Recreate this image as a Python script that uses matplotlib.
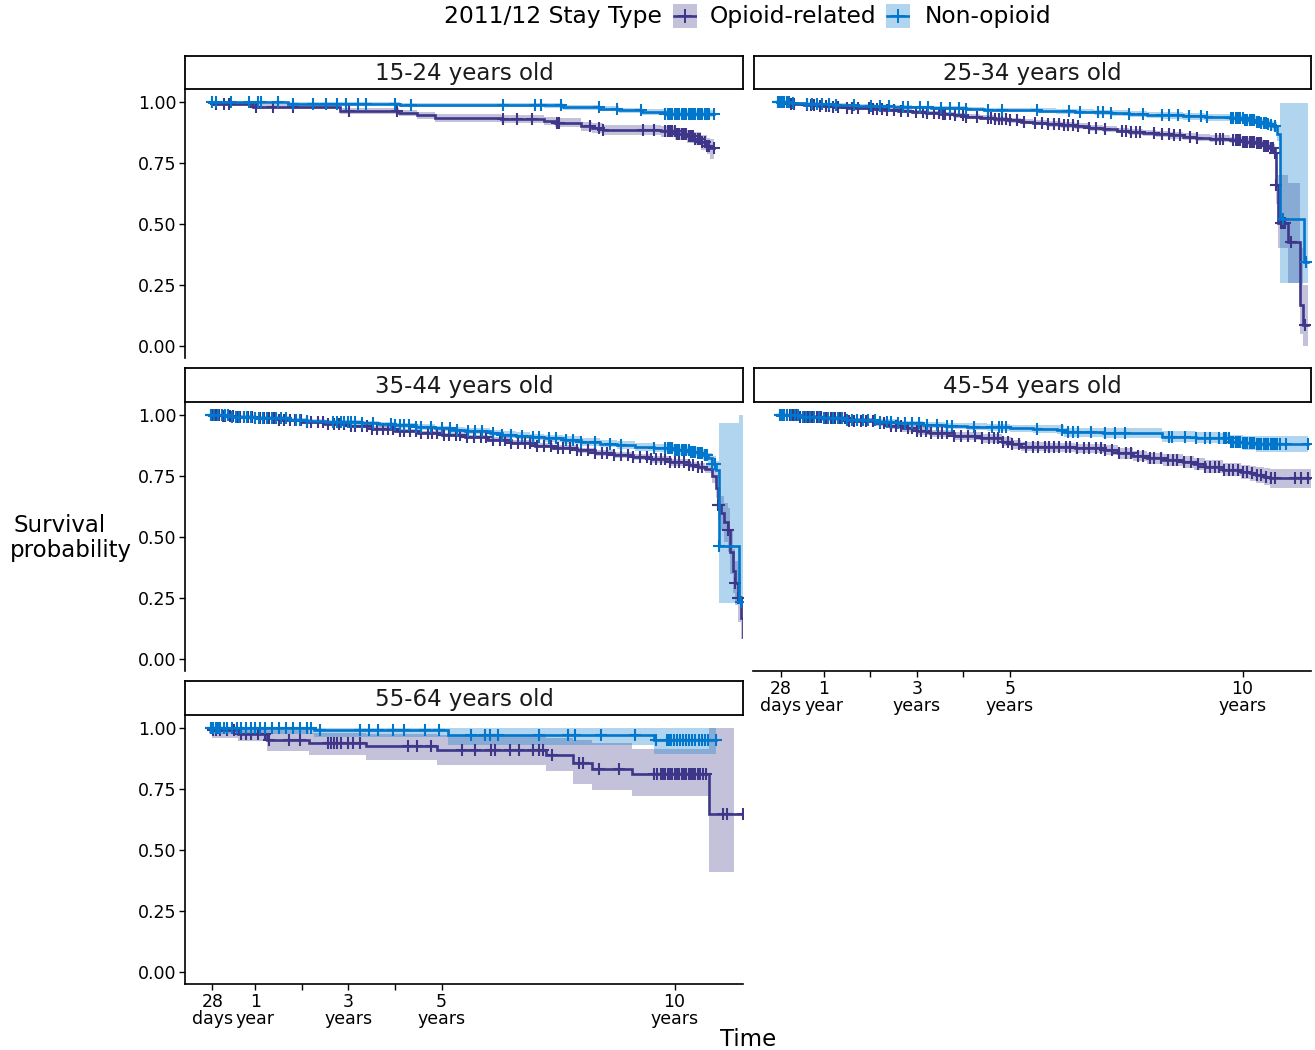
import matplotlib
matplotlib.use('Agg')
import matplotlib.pyplot as plt
import numpy as np

# Kaplan-Meier curves; time in years
groups = ['15-24 years old', '25-34 years old', '35-44 years old',
          '45-54 years old', '55-64 years old']
series_names = ['Opioid-related', 'Non-opioid']

# --- 15-24
p1_opi_t = [0, 0.08, 0.95, 2.82, 4.08, 4.47, 4.86, 6.27, 7.2, 7.44, 7.99, 8.22, 8.46,
            9.71, 10.02, 10.26, 10.41, 10.57, 10.69, 10.77, 10.85]
p1_opi_s = [1.0, 0.993, 0.98, 0.962, 0.955, 0.945, 0.935, 0.929, 0.922, 0.915, 0.90, 0.893,
            0.886, 0.88, 0.87, 0.86, 0.85, 0.835, 0.82, 0.81, 0.81]
p1_opi_lo = [1.0, 0.985, 0.97, 0.95, 0.941, 0.93, 0.92, 0.913, 0.905, 0.897, 0.881, 0.873,
             0.865, 0.858, 0.846, 0.834, 0.822, 0.805, 0.788, 0.765, 0.765]
p1_opi_hi = [1.0, 1.0, 0.99, 0.974, 0.968, 0.96, 0.95, 0.945, 0.939, 0.933, 0.919, 0.913,
             0.907, 0.902, 0.894, 0.886, 0.878, 0.865, 0.852, 0.848, 0.848]
p1_opi_c = [0.16, 0.32, 0.44, 1.02, 1.38, 1.81, 3.02, 4.04, 6.31, 6.62, 6.93, 7.48, 7.52,
            8.18, 8.38, 8.46, 9.32, 9.55, 9.8, 9.85, 9.9, 9.95, 10.0, 10.05, 10.1, 10.15,
            10.2, 10.25, 10.3, 10.35, 10.4, 10.45, 10.5, 10.55, 10.6, 10.65, 10.7, 10.75, 10.85]
p1_non_t = [0, 1.7, 4.1, 7.2, 7.6, 8.4, 8.8, 9.3, 9.8, 10.85]
p1_non_s = [1.0, 0.993, 0.989, 0.986, 0.979, 0.973, 0.966, 0.96, 0.952, 0.952]
p1_non_lo = [1.0, 0.986, 0.981, 0.977, 0.969, 0.962, 0.954, 0.947, 0.937, 0.937]
p1_non_hi = [1.0, 0.999, 0.996, 0.994, 0.988, 0.983, 0.977, 0.972, 0.966, 0.966]
p1_non_c = [0.08, 0.16, 0.48, 0.87, 1.06, 1.12, 1.49, 1.81, 2.24, 2.51, 2.75, 2.94, 3.21,
            3.37, 4.0, 4.35, 6.31, 7.01, 7.13, 7.56, 8.38, 8.77, 9.28, 9.8, 9.85, 9.9, 9.95,
            10.0, 10.05, 10.1, 10.15, 10.2, 10.25, 10.3, 10.35, 10.4, 10.45, 10.5, 10.55,
            10.6, 10.65, 10.7, 10.75, 10.85]

# --- 25-34
p2_opi_t = [0, 0.3, 0.57, 0.9, 1.2, 1.5, 1.74, 2.0, 2.3, 2.6, 2.9, 3.2, 3.5, 3.8, 4.06,
            4.35, 4.65, 4.95, 5.23, 5.5, 5.8, 6.1, 6.39, 6.7, 7.0, 7.3, 7.56, 7.85, 8.15,
            8.45, 8.72, 9.0, 9.3, 9.73, 10.0, 10.28, 10.45, 10.59, 10.70, 10.72, 10.77,
            10.98, 11.23, 11.30, 11.40]
p2_opi_s = [1.0, 0.993, 0.988, 0.984, 0.98, 0.977, 0.974, 0.971, 0.967, 0.964, 0.96, 0.955,
            0.95, 0.945, 0.94, 0.935, 0.93, 0.925, 0.92, 0.915, 0.91, 0.905, 0.90, 0.894,
            0.889, 0.883, 0.878, 0.873, 0.868, 0.863, 0.858, 0.854, 0.85, 0.844, 0.838, 0.83,
            0.82, 0.81, 0.79, 0.66, 0.505, 0.427, 0.168, 0.086, 0.086]
p2_opi_lo = [1.0, 0.989, 0.983, 0.978, 0.974, 0.97, 0.967, 0.963, 0.959, 0.955, 0.951,
             0.946, 0.941, 0.935, 0.93, 0.925, 0.92, 0.915, 0.909, 0.904, 0.899, 0.894,
             0.888, 0.882, 0.877, 0.871, 0.865, 0.86, 0.855, 0.85, 0.845, 0.84, 0.836, 0.83,
             0.823, 0.815, 0.804, 0.792, 0.77, 0.58, 0.40, 0.26, 0.05, 0.0, 0.0]
p2_opi_hi = [1.0, 0.997, 0.993, 0.99, 0.986, 0.984, 0.981, 0.979, 0.975, 0.973, 0.969,
             0.964, 0.959, 0.955, 0.95, 0.945, 0.94, 0.935, 0.931, 0.926, 0.921, 0.916,
             0.912, 0.906, 0.901, 0.895, 0.891, 0.886, 0.881, 0.876, 0.871, 0.868, 0.864,
             0.858, 0.853, 0.845, 0.836, 0.828, 0.81, 0.74, 0.70, 0.67, 0.40, 0.25, 0.25]
p2_opi_c = [0.02, 0.1, 0.2, 0.3, 0.37, 0.65, 0.72, 0.78, 0.92, 1.04, 1.12, 1.2, 1.31, 1.5,
            1.6, 1.74, 1.97, 2.05, 2.15, 2.25, 2.36, 2.51, 2.67, 2.82, 2.98, 3.13, 3.21, 3.37,
            3.47, 3.56, 3.6, 3.72, 3.83, 3.99, 4.06, 4.3, 4.53, 4.6, 4.68, 4.76, 4.84, 4.92,
            5.0, 5.15, 5.31, 5.54, 5.7, 5.82, 5.94, 6.06, 6.16, 6.24, 6.35, 6.47, 6.7, 6.86,
            7.05, 7.4, 7.5, 7.6, 7.7, 7.79, 8.1, 8.26, 8.41, 8.53, 8.65, 8.88, 9.03, 9.42,
            9.51, 9.58, 9.8, 9.85, 9.9, 9.95, 10.0, 10.05, 10.1, 10.15, 10.2, 10.25, 10.3,
            10.35, 10.4, 10.45, 10.5, 10.55, 10.6, 10.65, 10.7, 10.72, 10.82, 10.87, 10.92,
            11.05, 11.35]
p2_non_t = [0, 0.3, 0.57, 0.9, 1.2, 1.5, 1.74, 2.1, 2.5, 2.9, 3.3, 3.7, 4.06, 4.45, 4.84,
            5.2, 5.62, 6.0, 6.39, 6.8, 7.17, 7.55, 7.95, 8.3, 8.72, 9.2, 9.73, 10.04, 10.28,
            10.4, 10.51, 10.6, 10.66, 10.74, 10.80, 11.33, 11.40]
p2_non_s = [1.0, 0.996, 0.993, 0.99, 0.988, 0.986, 0.985, 0.983, 0.98, 0.978, 0.976, 0.974,
            0.972, 0.969, 0.967, 0.966, 0.964, 0.962, 0.96, 0.958, 0.955, 0.951, 0.947, 0.945,
            0.942, 0.938, 0.933, 0.925, 0.918, 0.914, 0.91, 0.905, 0.90, 0.87, 0.52, 0.345,
            0.345]
p2_non_lo = [1.0, 0.992, 0.988, 0.985, 0.982, 0.98, 0.979, 0.977, 0.973, 0.971, 0.968,
             0.966, 0.964, 0.961, 0.958, 0.957, 0.954, 0.952, 0.949, 0.947, 0.943, 0.939,
             0.934, 0.932, 0.928, 0.924, 0.918, 0.909, 0.901, 0.896, 0.892, 0.886, 0.88,
             0.84, 0.26, 0.26, 0.26]
p2_non_hi = [1.0, 1.0, 0.998, 0.995, 0.994, 0.992, 0.991, 0.989, 0.987, 0.985, 0.984,
             0.982, 0.98, 0.977, 0.976, 0.975, 0.974, 0.972, 0.971, 0.969, 0.967, 0.963,
             0.96, 0.958, 0.956, 0.952, 0.948, 0.941, 0.935, 0.932, 0.928, 0.924, 0.92, 0.90,
             0.995, 0.995, 0.995]
p2_non_c = [0.02, 0.05, 0.1, 0.15, 0.2, 0.25, 0.33, 0.65, 0.75, 0.85, 0.96, 1.11, 1.27, 1.66,
            2.01, 2.2, 2.4, 2.71, 2.82, 3.06, 3.25, 3.52, 3.72, 3.91, 4.06, 4.53, 4.84, 5.58,
            6.28, 6.51, 6.9, 7.0, 7.17, 7.56, 7.87, 8.26, 8.41, 8.61, 8.84, 9.11, 9.23, 9.75,
            9.8, 9.85, 9.9, 9.95, 10.0, 10.05, 10.1, 10.15, 10.2, 10.25, 10.3, 10.35, 10.4,
            10.45, 10.5, 10.55, 10.6, 10.7, 10.86, 11.37]

# --- 35-44
p3_opi_t = [0, 0.3, 0.6, 1.0, 1.5, 2.0, 2.5, 3.0, 3.5, 4.0, 4.5, 5.0, 5.5, 6.0, 6.5, 7.0,
            7.4, 7.9, 8.3, 8.7, 9.1, 9.5, 9.9, 10.3, 10.5, 10.65, 10.8, 10.88, 10.93, 11.0,
            11.07, 11.14, 11.2, 11.25, 11.29, 11.36, 11.42, 11.47]
p3_opi_s = [1.0, 0.995, 0.991, 0.986, 0.978, 0.97, 0.962, 0.953, 0.944, 0.935, 0.927, 0.918,
            0.91, 0.899, 0.887, 0.875, 0.866, 0.855, 0.845, 0.836, 0.827, 0.818, 0.806, 0.795,
            0.788, 0.78, 0.75, 0.70, 0.63, 0.60, 0.56, 0.53, 0.44, 0.36, 0.31, 0.25, 0.17,
            0.09]
p3_opi_lo = [1.0, 0.991, 0.986, 0.98, 0.971, 0.963, 0.954, 0.945, 0.935, 0.926, 0.918,
             0.909, 0.9, 0.889, 0.876, 0.864, 0.855, 0.844, 0.833, 0.824, 0.815, 0.805,
             0.793, 0.781, 0.773, 0.764, 0.72, 0.66, 0.57, 0.53, 0.48, 0.44, 0.35, 0.27,
             0.22, 0.15, 0.08, 0.03]
p3_opi_hi = [1.0, 0.999, 0.996, 0.992, 0.985, 0.977, 0.97, 0.961, 0.953, 0.944, 0.936,
             0.927, 0.92, 0.909, 0.898, 0.886, 0.877, 0.866, 0.857, 0.848, 0.839, 0.831,
             0.819, 0.809, 0.803, 0.796, 0.78, 0.74, 0.70, 0.67, 0.64, 0.62, 0.53, 0.45,
             0.40, 0.35, 0.26, 0.18]
p3_opi_c = [0.05, 0.1, 0.15, 0.22, 0.3, 0.36, 0.45, 0.52, 0.6, 0.68, 0.75, 0.85, 0.93, 1.0,
            1.1, 1.18, 1.3, 1.4, 1.5, 1.62, 1.75, 1.85, 1.98, 2.1, 2.2, 2.35, 2.45, 2.55,
            2.7, 2.8, 2.9, 3.05, 3.15, 3.3, 3.4, 3.5, 3.62, 3.75, 3.85, 3.95, 4.1, 4.2, 4.32,
            4.45, 4.55, 4.7, 4.8, 4.9, 5.05, 5.15, 5.3, 5.4, 5.55, 5.7, 5.85, 5.95, 6.1, 6.25,
            6.35, 6.5, 6.65, 6.8, 6.9, 7.05, 7.2, 7.35, 7.5, 7.6, 7.75, 7.9, 8.0, 8.15, 8.3,
            8.45, 8.55, 8.7, 8.85, 9.0, 9.1, 9.25, 9.4, 9.5, 9.6, 9.7, 9.8, 9.9, 10.0, 10.1,
            10.2, 10.3, 10.4, 10.5, 10.6, 10.93, 10.96, 11.14, 11.29, 11.36]
p3_non_t = [0, 0.5, 1.0, 1.73, 2.1, 2.5, 2.9, 3.29, 3.65, 4.0, 4.45, 4.86, 5.2, 5.5, 6.03,
            6.3, 6.6, 6.9, 7.2, 7.6, 7.99, 8.4, 8.77, 9.15, 9.55, 10.0, 10.33, 10.5, 10.62,
            10.72, 10.8, 10.88, 10.95, 11.39, 11.47]
p3_non_s = [1.0, 0.993, 0.988, 0.98, 0.976, 0.973, 0.97, 0.966, 0.962, 0.957, 0.951, 0.945,
            0.939, 0.933, 0.925, 0.92, 0.915, 0.91, 0.905, 0.897, 0.89, 0.883, 0.877, 0.87,
            0.864, 0.856, 0.85, 0.846, 0.838, 0.823, 0.80, 0.775, 0.465, 0.235, 0.235]
p3_non_lo = [1.0, 0.988, 0.982, 0.973, 0.968, 0.965, 0.961, 0.957, 0.952, 0.947, 0.94,
             0.934, 0.927, 0.921, 0.912, 0.906, 0.901, 0.896, 0.891, 0.882, 0.875, 0.868,
             0.861, 0.854, 0.847, 0.838, 0.831, 0.826, 0.817, 0.80, 0.77, 0.74, 0.23, 0.23,
             0.23]
p3_non_hi = [1.0, 0.998, 0.994, 0.987, 0.984, 0.981, 0.979, 0.975, 0.972, 0.967, 0.962,
             0.956, 0.951, 0.945, 0.938, 0.934, 0.929, 0.924, 0.919, 0.912, 0.905, 0.898,
             0.893, 0.886, 0.881, 0.874, 0.869, 0.866, 0.859, 0.846, 0.83, 0.81, 0.966, 1.0,
             1.0]
p3_non_c = [0.05, 0.12, 0.2, 0.28, 0.35, 0.42, 0.5, 0.58, 0.66, 0.75, 0.83, 0.9, 1.0, 1.08,
            1.17, 1.26, 1.35, 1.45, 1.55, 1.65, 1.88, 1.96, 2.12, 2.67, 2.75, 2.83, 2.9, 2.98,
            3.06, 3.14, 3.29, 3.53, 3.92, 4.0, 4.1, 4.2, 4.3, 4.45, 4.55, 4.78, 5.01, 5.17,
            5.33, 5.56, 5.72, 5.87, 6.11, 6.3, 6.5, 6.73, 6.97, 7.1, 7.3, 7.45, 7.67, 7.83,
            8.0, 8.3, 8.61, 8.85, 9.55, 9.8, 9.85, 9.9, 9.95, 10.0, 10.05, 10.1, 10.15, 10.2,
            10.25, 10.3, 10.35, 10.4, 10.45, 10.5, 10.55, 10.6, 10.65, 10.7, 10.8, 10.86,
            10.96, 11.43]

# --- 45-54
p4_opi_t = [0, 0.5, 0.96, 1.5, 2.12, 2.4, 2.67, 3.0, 3.29, 3.8, 4.38, 4.84, 5.05, 5.23, 5.8,
            6.39, 7.02, 7.33, 7.65, 7.95, 8.3, 8.72, 8.95, 9.19, 9.58, 9.97, 10.15, 10.28,
            10.45, 10.59, 11.48]
p4_opi_s = [1.0, 0.993, 0.986, 0.977, 0.966, 0.956, 0.945, 0.935, 0.925, 0.915, 0.904,
            0.891, 0.88, 0.87, 0.867, 0.863, 0.857, 0.843, 0.832, 0.822, 0.815, 0.809, 0.798,
            0.788, 0.775, 0.768, 0.761, 0.754, 0.747, 0.74, 0.74]
p4_opi_lo = [1.0, 0.986, 0.977, 0.966, 0.954, 0.943, 0.931, 0.92, 0.91, 0.899, 0.887,
             0.873, 0.862, 0.851, 0.847, 0.843, 0.836, 0.821, 0.81, 0.799, 0.791, 0.784,
             0.773, 0.762, 0.748, 0.739, 0.731, 0.723, 0.714, 0.70, 0.70]
p4_opi_hi = [1.0, 0.999, 0.995, 0.988, 0.978, 0.969, 0.959, 0.95, 0.94, 0.931, 0.921,
             0.909, 0.898, 0.889, 0.886, 0.883, 0.878, 0.865, 0.854, 0.845, 0.839, 0.834,
             0.823, 0.814, 0.802, 0.797, 0.791, 0.785, 0.781, 0.78, 0.78]
p4_opi_c = [0.05, 0.1, 0.15, 0.2, 0.28, 0.35, 0.42, 0.5, 0.58, 0.66, 0.75, 0.85, 0.95, 1.05,
            1.15, 1.25, 1.35, 1.45, 1.55, 1.65, 1.8, 1.9, 2.05, 2.2, 2.3, 2.45, 2.55, 2.65,
            2.8, 2.9, 3.0, 3.1, 3.2, 3.3, 3.45, 3.55, 3.65, 3.8, 3.95, 4.1, 4.25, 4.4, 4.55,
            4.65, 4.75, 4.85, 4.95, 5.05, 5.2, 5.35, 5.5, 5.6, 5.75, 5.85, 5.95, 6.05, 6.2,
            6.3, 6.45, 6.6, 6.7, 6.85, 6.95, 7.05, 7.2, 7.35, 7.5, 7.6, 7.75, 7.85, 8.0, 8.1,
            8.25, 8.4, 8.5, 8.6, 8.75, 8.9, 9.05, 9.2, 9.3, 9.4, 9.5, 9.6, 9.7, 9.8, 9.9,
            10.0, 10.1, 10.2, 10.3, 10.4, 10.5, 10.6, 10.7, 11.13, 11.25, 11.4]
p4_non_t = [0, 0.5, 0.96, 1.5, 2.12, 2.6, 3.13, 3.6, 4.07, 4.5, 5.0, 5.5, 6.01, 6.16, 7.0,
            7.95, 8.26, 9.0, 9.5, 9.73, 10.0, 10.28, 11.4]
p4_non_s = [1.0, 0.993, 0.986, 0.979, 0.973, 0.966, 0.959, 0.955, 0.952, 0.949, 0.945,
            0.942, 0.939, 0.929, 0.927, 0.925, 0.911, 0.907, 0.904, 0.891, 0.886, 0.881, 0.881]
p4_non_lo = [1.0, 0.986, 0.978, 0.97, 0.963, 0.955, 0.947, 0.943, 0.939, 0.935, 0.93,
             0.925, 0.921, 0.91, 0.907, 0.905, 0.889, 0.884, 0.88, 0.864, 0.856, 0.847, 0.847]
p4_non_hi = [1.0, 0.999, 0.994, 0.988, 0.983, 0.977, 0.971, 0.968, 0.966, 0.963, 0.96,
             0.958, 0.957, 0.948, 0.947, 0.946, 0.933, 0.93, 0.928, 0.918, 0.915, 0.913, 0.913]
p4_non_c = [0.05, 0.1, 0.15, 0.22, 0.3, 0.38, 0.45, 0.55, 0.62, 0.7, 0.8, 0.9, 1.0, 1.1,
            1.2, 1.3, 1.4, 1.5, 1.6, 1.72, 1.85, 1.95, 2.1, 2.2, 2.35, 2.45, 2.6, 2.75, 2.9,
            3.05, 3.21, 3.44, 3.64, 3.75, 4.22, 4.61, 4.76, 4.84, 4.92, 5.58, 6.12, 6.24,
            6.35, 6.47, 6.74, 7.05, 7.25, 7.48, 8.41, 8.49, 8.76, 9.0, 9.19, 9.31, 9.5, 9.6,
            9.65, 9.7, 9.75, 9.8, 9.85, 9.9, 9.95, 10.0, 10.05, 10.1, 10.15, 10.2, 10.25,
            10.3, 10.35, 10.4, 10.45, 10.5, 10.55, 10.6, 10.65, 10.7, 10.75, 10.8, 10.94, 11.4]

# --- 55-64
p5_opi_t = [0, 0.08, 0.63, 1.26, 2.16, 3.37, 4.9, 7.24, 7.83, 8.22, 9.08, 10.74, 11.27, 11.49]
p5_opi_s = [1.0, 0.99, 0.977, 0.95, 0.94, 0.925, 0.908, 0.89, 0.857, 0.833, 0.813, 0.648,
            0.648, 0.648]
p5_opi_lo = [0.98, 0.96, 0.945, 0.904, 0.89, 0.87, 0.85, 0.822, 0.772, 0.747, 0.72, 0.41,
             0.648, 0.648]
p5_opi_hi = [1.0, 1.0, 1.0, 0.99, 0.98, 0.975, 0.97, 0.96, 0.95, 0.938, 0.915, 1.0, 0.648,
             0.648]
p5_opi_c = [0.05, 0.1, 0.16, 0.25, 0.4, 0.55, 0.7, 0.8, 0.9, 1.05, 1.2, 1.3, 1.73, 1.96,
            2.55, 2.62, 2.7, 2.75, 2.85, 3.0, 3.1, 3.25, 4.27, 4.47, 4.78, 5.44, 5.72, 6.07,
            6.15, 6.46, 6.66, 6.97, 7.09, 7.17, 7.36, 7.95, 8.03, 8.38, 8.81, 9.55, 9.62, 9.7,
            9.75, 9.8, 9.85, 9.9, 9.95, 10.0, 10.05, 10.1, 10.15, 10.2, 10.25, 10.3, 10.35,
            10.4, 10.45, 10.5, 10.55, 10.62, 10.68, 11.04, 11.12, 11.47]
p5_non_t = [0, 2.27, 5.13, 9.55, 10.88]
p5_non_s = [1.0, 0.99, 0.97, 0.95, 0.95]
p5_non_lo = [0.975, 0.963, 0.929, 0.893, 0.893]
p5_non_hi = [1.0, 1.0, 1.0, 1.0, 1.0]
p5_non_c = [0.05, 0.1, 0.15, 0.2, 0.25, 0.32, 0.4, 0.5, 0.6, 0.7, 0.8, 0.9, 1.0, 1.1, 1.2,
            1.35, 1.5, 1.65, 1.8, 1.95, 2.1, 2.2, 2.39, 3.25, 3.45, 3.64, 3.96, 4.19, 4.64,
            4.95, 5.64, 5.94, 6.03, 6.2, 7.09, 7.71, 7.87, 8.42, 9.16, 9.6, 9.83, 9.88, 9.93,
            9.98, 10.05, 10.12, 10.18, 10.25, 10.32, 10.38, 10.45, 10.52, 10.58, 10.65,
            10.72, 10.88]

tick_pos = [28 / 365.25, 1, 2, 3, 4, 5, 10]
tick_lab = ['28\ndays', '1\nyear', '', '3\nyears', '', '5\nyears', '10\nyears']

OPI_COL = '#3D3689'
NON_COL = '#0077CC'

panels = [
    (groups[0], (p1_opi_t, p1_opi_s, p1_opi_lo, p1_opi_hi, p1_opi_c),
     (p1_non_t, p1_non_s, p1_non_lo, p1_non_hi, p1_non_c)),
    (groups[1], (p2_opi_t, p2_opi_s, p2_opi_lo, p2_opi_hi, p2_opi_c),
     (p2_non_t, p2_non_s, p2_non_lo, p2_non_hi, p2_non_c)),
    (groups[2], (p3_opi_t, p3_opi_s, p3_opi_lo, p3_opi_hi, p3_opi_c),
     (p3_non_t, p3_non_s, p3_non_lo, p3_non_hi, p3_non_c)),
    (groups[3], (p4_opi_t, p4_opi_s, p4_opi_lo, p4_opi_hi, p4_opi_c),
     (p4_non_t, p4_non_s, p4_non_lo, p4_non_hi, p4_non_c)),
    (groups[4], (p5_opi_t, p5_opi_s, p5_opi_lo, p5_opi_hi, p5_opi_c),
     (p5_non_t, p5_non_s, p5_non_lo, p5_non_hi, p5_non_c)),
]

W, H = 1315, 1050
fig = plt.figure(figsize=(W / 100, H / 100), dpi=100)


def px_axes(x0, y0, x1, y1):
    return fig.add_axes([x0 / W, 1 - y1 / H, (x1 - x0) / W, (y1 - y0) / H])


def surv_at(t, s, c):
    idx = np.searchsorted(np.asarray(t), np.asarray(c), side='right') - 1
    return np.asarray(s)[np.clip(idx, 0, None)]


cols = [(184.5, 743), (753, 1311)]
rows = [(89.8, 358.2), (402.8, 671.2), (715.8, 984.2)]
strips = [(56, 89), (368, 402), (681, 715)]
bottom_panels = [3, 4]

for i, (name, opi, non) in enumerate(panels):
    r, c = divmod(i, 2)
    x0, x1 = cols[c]
    y0, y1 = rows[r]
    ax = px_axes(x0, y0, x1, y1)
    for (t, s, lo, hi, cens), col in [(opi, OPI_COL), (non, NON_COL)]:
        ax.fill_between(t, lo, hi, step='post', color=col, alpha=0.3, lw=0)
    for (t, s, lo, hi, cens), col in [(opi, OPI_COL), (non, NON_COL)]:
        ax.step(t, s, where='post', color=col, lw=1.9, solid_joinstyle='miter')
        ax.plot(cens, surv_at(t, s, cens), ls='none', marker='+', ms=9,
                mew=1.5, color=col)
    ax.set_xlim(-0.52, 11.47)
    ax.set_ylim(-0.05, 1.05)
    for sp in ax.spines.values():
        sp.set_visible(False)
    if c == 0:
        ax.spines['left'].set_visible(True)
        ax.spines['left'].set_linewidth(1.2)
        ax.set_yticks([0, 0.25, 0.5, 0.75, 1.0])
        ax.set_yticklabels(['0.00', '0.25', '0.50', '0.75', '1.00'])
    else:
        ax.set_yticks([])
    if i in bottom_panels:
        ax.spines['bottom'].set_visible(True)
        ax.spines['bottom'].set_linewidth(1.2)
        ax.set_xticks(tick_pos)
        ax.set_xticklabels(tick_lab, linespacing=0.95)
    else:
        ax.set_xticks([])
    ax.tick_params(axis='y', labelsize=12.5, length=4, width=1, pad=2, colors='black')
    ax.tick_params(axis='x', labelsize=12.5, length=4, width=1, pad=2, colors='black')
    ax.patch.set_alpha(0)

    # facet strip
    sy0, sy1 = strips[r]
    sax = px_axes(x0 + 0.5, sy0, x1, sy1)
    sax.set_xticks([])
    sax.set_yticks([])
    for sp in sax.spines.values():
        sp.set_linewidth(1.3)
        sp.set_color('black')
    sax.text(0.5, 0.47, name, ha='center', va='center', fontsize=16.5,
             color='#1A1A1A', transform=sax.transAxes)

# axis titles
fig.text(60 / W, 1 - 526 / H, 'Survival', ha='center', va='center', fontsize=16.5)
fig.text(71 / W, 1 - 550 / H, 'probability', ha='center', va='center', fontsize=16.5)
fig.text(748 / W, 1 - 1040 / H, 'Time', ha='center', va='center', fontsize=16.5)

# legend along the top
fig.text(444 / W, 1 - 16 / H, '2011/12 Stay Type', ha='left', va='center', fontsize=16.8)
for (kx, tx), col, lab in [((673, 710), OPI_COL, series_names[0]),
                          ((886, 925), NON_COL, series_names[1])]:
    kax = px_axes(kx, 4, kx + 24, 28)
    kax.set_xlim(0, 1)
    kax.set_ylim(0, 1)
    kax.set_facecolor(col)
    kax.patch.set_alpha(0.3)
    kax.plot([0.05, 0.95], [0.5, 0.5], color=col, lw=1.9)
    kax.plot([0.5], [0.5], marker='+', ms=10, mew=1.4, color=col)
    kax.set_xticks([])
    kax.set_yticks([])
    for sp in kax.spines.values():
        sp.set_visible(False)
    fig.text(tx / W, 1 - 16 / H, lab, ha='left', va='center', fontsize=16.8)

plt.savefig('out.png', dpi=100)
